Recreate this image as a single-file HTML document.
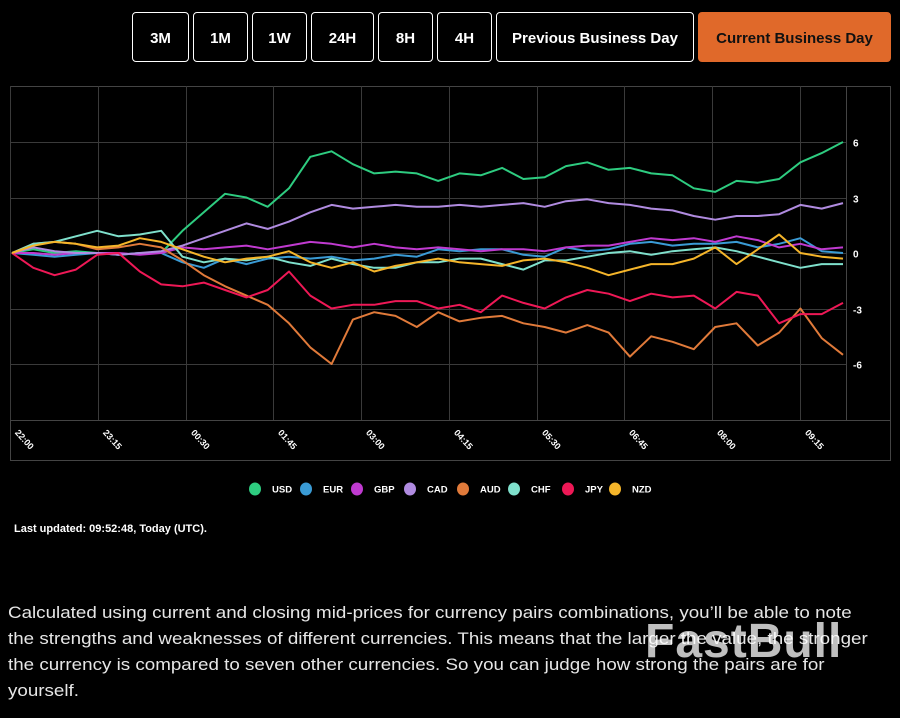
<!DOCTYPE html>
<html><head><meta charset="utf-8">
<style>
body{margin:0;background:#000;width:900px;height:718px;overflow:hidden;font-family:"Liberation Sans",sans-serif;position:relative}
.btn{position:absolute;top:12px;height:50px;border:1px solid #fff;border-radius:4px;color:#fff;font-weight:bold;font-size:15px;display:flex;align-items:center;justify-content:center;box-sizing:border-box;background:#000;padding-top:3px}
.btn.active{background:#e0692a;border-color:#e0692a;color:#111}
#upd{position:absolute;left:14px;top:523px;color:#fff;font-weight:bold;font-size:11px}
#desc{position:absolute;left:8px;top:600px;color:#e6e6e6;font-size:17px;line-height:26px;margin:0;white-space:nowrap;transform:scaleX(1.105);transform-origin:0 0}
#wm{position:absolute;left:645px;top:614px;font-size:48px;font-weight:bold;color:rgba(255,255,255,0.75);letter-spacing:1px}
</style></head><body>
<div class="btn" style="left:132px;width:57px">3M</div>
<div class="btn" style="left:193px;width:55px">1M</div>
<div class="btn" style="left:252px;width:55px">1W</div>
<div class="btn" style="left:311px;width:63px">24H</div>
<div class="btn" style="left:378px;width:55px">8H</div>
<div class="btn" style="left:437px;width:55px">4H</div>
<div class="btn" style="left:496px;width:198px">Previous Business Day</div>
<div class="btn active" style="left:698px;width:193px">Current Business Day</div>

<svg id="chart" width="900" height="520" style="position:absolute;left:0;top:0"></svg>

<div id="upd">Last updated: 09:52:48, Today (UTC).</div>
<p id="desc">Calculated using current and closing mid-prices for currency pairs combinations, you’ll be able to note<br>the strengths and weaknesses of different currencies. This means that the larger the value, the stronger<br>the currency is compared to seven other currencies. So you can judge how strong the pairs are for<br>yourself.</p>
<div id="wm">FastBull</div>

<script>
const timeLabels=["22:00","23:15","00:30","01:45","03:00","04:15","05:30","06:45","08:00","09:15"];
const yTicks=[6,3,0,-3,-6];
const currencies=["USD","EUR","GBP","CAD","AUD","CHF","JPY","NZD"];
const colors=["#2ecc80","#3a9bd5","#c03ad0","#b08be0","#e07a3a","#7fe0cc","#ee1856","#f5b52a"];
const USD=[0,0.2,0,0.1,0,-0.1,0,0,1.2,2.2,3.2,3,2.5,3.5,5.2,5.5,4.8,4.3,4.4,4.3,3.9,4.3,4.2,4.6,4.0,4.1,4.7,4.9,4.5,4.6,4.3,4.2,3.5,3.3,3.9,3.8,4.0,4.9,5.4,6.0];
const EUR=[0,-0.1,-0.2,-0.1,0,-0.1,0,0,-0.5,-0.8,-0.3,-0.6,-0.3,-0.2,-0.3,-0.2,-0.4,-0.3,-0.1,-0.2,0.2,0.1,0.2,0.2,-0.1,-0.2,0.3,0.1,0.2,0.5,0.6,0.4,0.5,0.5,0.6,0.3,0.5,0.8,0.1,0];
const GBP=[0,0,-0.1,0,0,0,-0.1,0,0.3,0.2,0.3,0.4,0.2,0.4,0.6,0.5,0.3,0.5,0.3,0.2,0.3,0.2,0.1,0.2,0.2,0.1,0.3,0.4,0.4,0.6,0.8,0.7,0.8,0.6,0.9,0.7,0.3,0.5,0.2,0.3];
const CAD=[0,0.3,0.1,0,0,-0.1,0,0.1,0.4,0.8,1.2,1.6,1.3,1.7,2.2,2.6,2.4,2.5,2.6,2.5,2.5,2.6,2.5,2.6,2.7,2.5,2.8,2.9,2.7,2.6,2.4,2.3,2.0,1.8,2.0,2.0,2.1,2.6,2.4,2.7];
const AUD=[0,0.5,0.6,0.5,0.2,0.3,0.5,0.3,-0.4,-1.2,-1.8,-2.3,-2.8,-3.8,-5.1,-6.0,-3.6,-3.2,-3.4,-4.0,-3.2,-3.7,-3.5,-3.4,-3.8,-4.0,-4.3,-3.9,-4.3,-5.6,-4.5,-4.8,-5.2,-4.0,-3.8,-5.0,-4.3,-3.0,-4.6,-5.5];
const CHF=[0,0.5,0.6,0.9,1.2,0.9,1.0,1.2,-0.2,-0.5,-0.3,-0.4,-0.2,-0.5,-0.7,-0.3,-0.6,-0.8,-0.8,-0.5,-0.5,-0.3,-0.3,-0.6,-0.9,-0.4,-0.4,-0.2,0,0.1,-0.1,0.1,0.2,0.3,0.1,-0.2,-0.5,-0.8,-0.6,-0.6];
const JPY=[0,-0.8,-1.2,-0.9,-0.1,0,-1.0,-1.7,-1.8,-1.6,-2.0,-2.4,-2.0,-1.0,-2.3,-3.0,-2.8,-2.8,-2.6,-2.6,-3.0,-2.8,-3.2,-2.3,-2.7,-3.0,-2.4,-2.0,-2.2,-2.6,-2.2,-2.4,-2.3,-3.0,-2.1,-2.3,-3.8,-3.3,-3.3,-2.7];
const NZD=[0,0.4,0.6,0.5,0.3,0.4,0.8,0.6,0.2,-0.2,-0.5,-0.3,-0.2,0.1,-0.5,-0.8,-0.5,-1.0,-0.7,-0.5,-0.3,-0.5,-0.6,-0.7,-0.4,-0.3,-0.5,-0.8,-1.2,-0.9,-0.6,-0.6,-0.3,0.3,-0.6,0.2,1.0,0,-0.2,-0.3];
const series=[USD,EUR,GBP,CAD,AUD,CHF,JPY,NZD];

const NS="http://www.w3.org/2000/svg";
const svg=document.getElementById('chart');
const X0=12,X1=843,TOTALMIN=710,GRIDSTEP=75;
function xIdx(i,n){return X0+(X1-X0)*i/(n-1);}
function xMin(m){return X0+(X1-X0)*m/TOTALMIN;}
function yV(v){return 253-v*18.5;}
function mk(tag,attrs){const e=document.createElementNS(NS,tag);for(const k in attrs)e.setAttribute(k,attrs[k]);svg.appendChild(e);return e;}

const frame=mk('rect',{x:10.5,y:86.5,width:880,height:374,fill:'none',stroke:'#444'});


const xb=mk('line',{x1:10,x2:890,y1:420.5,y2:420.5,stroke:'#444'});


const ra=mk('line',{x1:846.5,x2:846.5,y1:86,y2:420,stroke:'#444'});


timeLabels.forEach((t,i)=>{
  const x=Math.round(xMin(i*GRIDSTEP)-2)+0.5;
  const g=mk('line',{x1:x,x2:x,y1:86,y2:420,stroke:'#3a3a3a'});
  
  
  const tx=mk('text',{x:0,y:0,fill:'#fff','font-size':9,'font-weight':'bold',transform:`translate(${x+4},${433}) rotate(48)`});
  tx.textContent=t;
  
  
});
yTicks.forEach(v=>{
  const y=Math.round(yV(v))+0.5;
  const g=mk('line',{x1:10,x2:846,y1:y,y2:y,stroke:'#3a3a3a'});
  
  
  const tx=mk('text',{x:853,y:y+4,fill:'#fff','font-size':10,'font-weight':'bold'});
  tx.textContent=v;
  
  
});
series.forEach((s,k)=>{
  const d=s.map((v,i)=>(i?'L':'M')+xIdx(i,s.length).toFixed(1)+','+yV(v).toFixed(1)).join(' ');
  const p=mk('path',{d:d,fill:'none',stroke:colors[k],'stroke-width':2,'stroke-linejoin':'round'});
  
  
});
const legX=[255,306,357,410,463,514,568,615];
currencies.forEach((c,k)=>{
  const dot=mk('ellipse',{cx:legX[k],cy:489,rx:6,ry:6.5,fill:colors[k]});
  
  
  const t=mk('text',{x:legX[k]+17,y:492.5,fill:'#fff','font-size':9.5,'font-weight':'bold'});
  t.textContent=c;
  
  
});
</script>
</body></html>
